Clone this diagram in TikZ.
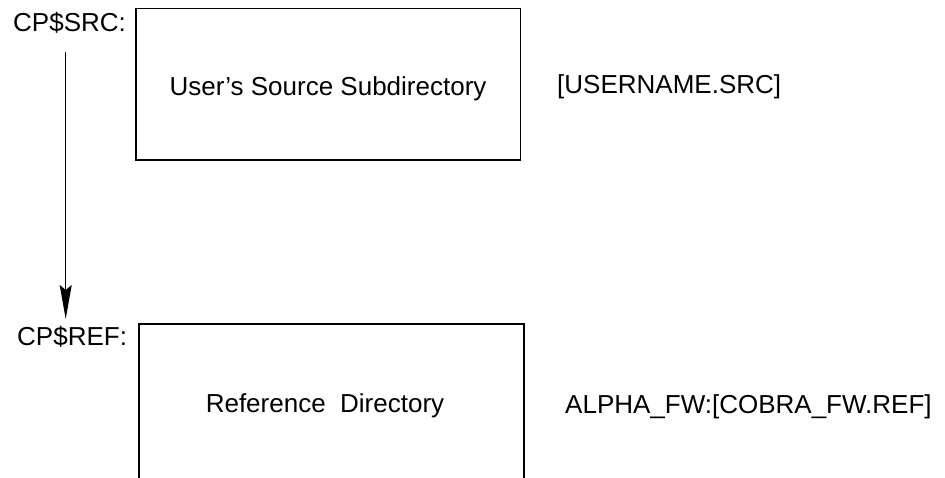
\documentclass[tikz,border=0pt]{standalone}
\usepackage{fontspec}
\setmainfont{Liberation Sans}
\usetikzlibrary{arrows.meta}
\begin{document}
\begin{tikzpicture}[x=1pt,y=-1pt,
  lbl/.style={font=\fontsize{26}{30}\selectfont, inner sep=0pt, anchor=base west},
  ctr/.style={font=\fontsize{26}{30}\selectfont, inner sep=0pt, anchor=base},
  dirbox/.style={draw, line width=1.3pt, inner sep=0pt, outer sep=0pt},
  flow/.style={line width=1.3pt, -{Stealth[length=34pt,width=12pt,inset=5pt]}}]
  \clip (0,0) rectangle (945,477);
  \fill[white] (0,0) rectangle (945,477);

  % directory boxes (the lower one runs past the page edge)
  \node[dirbox, minimum width=384.7pt, minimum height=151.7pt] (srcbox) at (328.3,84.2) {};
  \node[dirbox, minimum width=385pt, minimum height=200pt] (refbox) at (331.5,424) {};

  % box captions
  \node[ctr] (srctext) at (328,95) {User's Source Subdirectory};
  \node[ctr] (reftext) at (325,412) {Reference\ \ Directory};

  % logical names
  \node[lbl] (srclog) at (13,31.7) {CP\$SRC:};
  \node[lbl] (reflog) at (17,345) {CP\$REF:};

  % physical directory specs
  \node[lbl] (srcdir) at (557,93.5) {[USERNAME.SRC]};
  \node[lbl] (refdir) at (565,413) {ALPHA\_FW:[COBRA\_FW.REF]};

  % copy flow from source to reference
  \coordinate (flowstart) at (65.7,52);
  \coordinate (flowend) at (65.7,319);
  \draw[flow] (flowstart) -- (flowend);
\end{tikzpicture}
\end{document}
